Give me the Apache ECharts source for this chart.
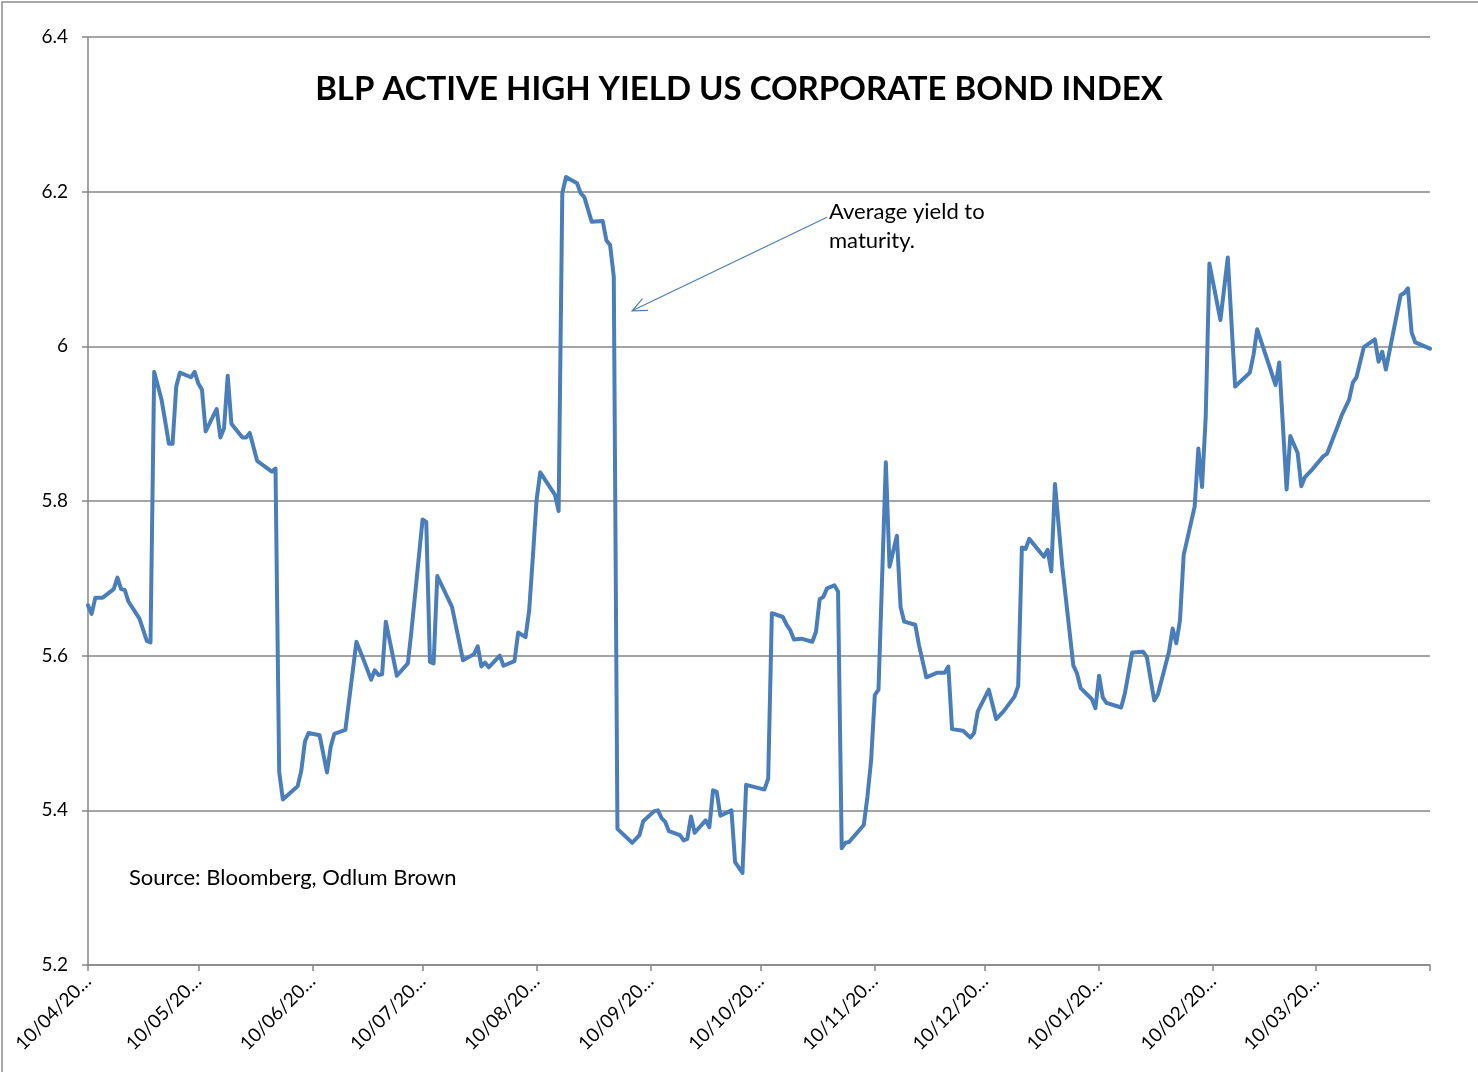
<!DOCTYPE html>
<html><head><meta charset="utf-8">
<script src="https://cdn.jsdelivr.net/npm/echarts@6/dist/echarts.min.js"></script>
<style>html,body{margin:0;padding:0;background:#fff}#c{width:1478px;height:1072px}</style>
</head><body><div id="c"></div>
<script>
const dates = [
'2010-04-10','2010-04-11','2010-04-12','2010-04-14','2010-04-17','2010-04-18','2010-04-19','2010-04-20','2010-04-21','2010-04-24',
'2010-04-26','2010-04-27','2010-04-28','2010-04-30','2010-05-01','2010-05-02','2010-05-03','2010-05-04','2010-05-05','2010-05-08',
'2010-05-09','2010-05-10','2010-05-11','2010-05-12','2010-05-15','2010-05-16','2010-05-17','2010-05-18','2010-05-19','2010-05-22',
'2010-05-23','2010-05-24','2010-05-26','2010-05-30','2010-05-31','2010-06-01','2010-06-02','2010-06-06','2010-06-07','2010-06-08',
'2010-06-09','2010-06-12','2010-06-14','2010-06-15','2010-06-16','2010-06-19','2010-06-22','2010-06-24','2010-06-26','2010-06-27',
'2010-06-28','2010-06-29','2010-06-30','2010-07-03','2010-07-06','2010-07-07','2010-07-10','2010-07-11','2010-07-12','2010-07-13',
'2010-07-14','2010-07-18','2010-07-21','2010-07-24','2010-07-25','2010-07-26','2010-07-27','2010-07-28','2010-07-31','2010-08-01',
'2010-08-04','2010-08-05','2010-08-07','2010-08-08','2010-08-09','2010-08-10','2010-08-11','2010-08-15','2010-08-16','2010-08-17',
'2010-08-18','2010-08-21','2010-08-22','2010-08-23','2010-08-25','2010-08-28','2010-08-29','2010-08-30','2010-08-31','2010-09-01',
'2010-09-05','2010-09-07','2010-09-08','2010-09-11','2010-09-12','2010-09-13','2010-09-14','2010-09-15','2010-09-18','2010-09-19',
'2010-09-20','2010-09-21','2010-09-22','2010-09-25','2010-09-26','2010-09-27','2010-09-28','2010-09-29','2010-10-02','2010-10-03',
'2010-10-05','2010-10-06','2010-10-10','2010-10-11','2010-10-12','2010-10-13','2010-10-16','2010-10-17','2010-10-18','2010-10-19',
'2010-10-21','2010-10-24','2010-10-25','2010-10-26','2010-10-27','2010-10-28','2010-10-30','2010-10-31','2010-11-01','2010-11-02',
'2010-11-03','2010-11-07','2010-11-08','2010-11-09','2010-11-10','2010-11-11','2010-11-13','2010-11-14','2010-11-16','2010-11-17',
'2010-11-18','2010-11-21','2010-11-22','2010-11-24','2010-11-27','2010-11-29','2010-11-30','2010-12-01','2010-12-04','2010-12-06',
'2010-12-07','2010-12-08','2010-12-11','2010-12-13','2010-12-15','2010-12-18','2010-12-19','2010-12-20','2010-12-21','2010-12-22',
'2010-12-26','2010-12-27','2010-12-28','2010-12-29','2010-12-31','2011-01-03','2011-01-04','2011-01-05','2011-01-08','2011-01-09',
'2011-01-10','2011-01-11','2011-01-12','2011-01-16','2011-01-17','2011-01-19','2011-01-22','2011-01-23','2011-01-25','2011-01-26',
'2011-01-29','2011-01-30','2011-01-31','2011-02-01','2011-02-02','2011-02-05','2011-02-06','2011-02-07','2011-02-08','2011-02-09',
'2011-02-12','2011-02-14','2011-02-16','2011-02-20','2011-02-21','2011-02-22','2011-02-27','2011-02-28','2011-03-02','2011-03-03',
'2011-03-05','2011-03-06','2011-03-07','2011-03-09','2011-03-12','2011-03-13','2011-03-16','2011-03-17','2011-03-19','2011-03-20',
'2011-03-21','2011-03-23','2011-03-26','2011-03-27','2011-03-28','2011-03-29','2011-04-02','2011-04-03','2011-04-04','2011-04-05',
'2011-04-06','2011-04-10'
];
const yields = [
5.665,5.654,5.675,5.675,5.686,5.701,5.686,5.685,5.670,5.648,
5.619,5.617,5.967,5.931,5.903,5.874,5.874,5.948,5.966,5.960,
5.967,5.952,5.944,5.890,5.919,5.882,5.894,5.962,5.900,5.882,
5.882,5.888,5.852,5.838,5.842,5.450,5.414,5.431,5.451,5.489,
5.500,5.497,5.449,5.482,5.499,5.504,5.618,5.594,5.569,5.581,
5.575,5.576,5.644,5.574,5.590,5.633,5.776,5.773,5.592,5.590,
5.703,5.663,5.594,5.602,5.612,5.586,5.591,5.585,5.600,5.587,
5.593,5.630,5.624,5.659,5.728,5.801,5.837,5.808,5.787,6.198,
6.219,6.211,6.198,6.193,6.161,6.162,6.137,6.131,6.090,5.376,
5.358,5.368,5.386,5.399,5.400,5.390,5.385,5.373,5.368,5.361,
5.363,5.392,5.371,5.387,5.378,5.426,5.424,5.393,5.400,5.333,
5.319,5.433,5.428,5.427,5.441,5.655,5.650,5.640,5.633,5.621,
5.622,5.618,5.631,5.673,5.676,5.687,5.691,5.683,5.351,5.358,
5.359,5.381,5.418,5.465,5.549,5.556,5.850,5.715,5.755,5.663,
5.644,5.640,5.614,5.572,5.578,5.578,5.586,5.505,5.503,5.494,
5.500,5.528,5.556,5.518,5.528,5.547,5.561,5.740,5.738,5.751,
5.728,5.737,5.709,5.822,5.715,5.587,5.577,5.558,5.544,5.532,
5.574,5.546,5.539,5.533,5.551,5.604,5.605,5.598,5.542,5.550,
5.605,5.635,5.616,5.646,5.730,5.793,5.868,5.818,5.909,6.107,
6.034,6.115,5.948,5.966,5.989,6.022,5.950,5.979,5.815,5.884,
5.862,5.819,5.831,5.841,5.858,5.861,5.898,5.911,5.931,5.953,
5.960,5.999,6.009,5.980,5.993,5.970,6.066,6.069,6.075,6.018,
6.005,5.997
];
const tickDates = ['2010-04-10','2010-05-10','2010-06-10','2010-07-10','2010-08-10','2010-09-10','2010-10-10','2010-11-10','2010-12-10','2011-01-10','2011-02-10','2011-03-10','2011-04-10'];
const tickLabels = ['10/04/20…','10/05/20…','10/06/20…','10/07/20…','10/08/20…','10/09/20…','10/10/20…','10/11/20…','10/12/20…','10/01/20…','10/02/20…','10/03/20…'];
const yMin = 5.2, yMax = 6.4, yStep = 0.2;
const titleText = 'BLP ACTIVE HIGH YIELD US CORPORATE BOND INDEX';
const noteText = 'Average yield to\nmaturity.';
const sourceText = 'Source: Bloomberg, Odlum Brown';
const arrowFrom = ['2010-10-28', 6.167];
const arrowTo = ['2010-09-05', 6.046];

function ts(s){ const p = s.split('-').map(Number); return Date.UTC(p[0], p[1]-1, p[2]); }
const labelMap = {};
tickLabels.forEach((l,i) => { labelMap[ts(tickDates[i])] = l; });

const FONT = 'Lato';
const AX = '#868686';
const BLUE = '#4A7EBB';

const chart = echarts.init(document.getElementById('c'), null, {renderer:'canvas'});
const option = {
  animation: false,
  backgroundColor: '#fff',
  title: {
    text: titleText, left: 'center', top: 68,
    textStyle: {fontFamily: FONT, fontWeight: 'bold', fontSize: 33, color: '#000'}
  },
  grid: {left: 88, right: 48, top: 37, bottom: 107, containLabel: false},
  xAxis: {
    type: 'value',
    min: ts(tickDates[0]), max: ts(tickDates[tickDates.length-1]),
    axisLine: {show: true, lineStyle: {color: AX, width: 1.5}},
    axisTick: {show: true, length: 6, lineStyle: {color: AX, width: 1.5}, customValues: tickDates.map(ts)},
    axisLabel: {
      customValues: tickDates.slice(0, tickLabels.length).map(ts),
      formatter: v => labelMap[v] || '',
      rotate: 45, margin: 13, fontFamily: FONT, fontSize: 19, color: '#000', hideOverlap: false
    },
    splitLine: {show: false}
  },
  yAxis: {
    type: 'value', min: yMin, max: yMax, interval: yStep,
    axisLine: {show: true, lineStyle: {color: AX, width: 1.5}},
    axisTick: {show: true, length: 6, lineStyle: {color: AX, width: 1.5}},
    axisLabel: {margin: 20, fontFamily: FONT, fontSize: 19, color: '#000'},
    splitLine: {show: true, lineStyle: {color: AX, width: 1.5}}
  },
  series: [{
    type: 'line',
    data: dates.map((d, i) => [ts(d), yields[i]]),
    showSymbol: false,
    lineStyle: {color: BLUE, width: 4, cap: 'round', join: 'round'},
    itemStyle: {color: BLUE}
  }]
};
chart.setOption(option);

const p1 = chart.convertToPixel({xAxisIndex: 0, yAxisIndex: 0}, [ts(arrowFrom[0]), arrowFrom[1]]);
const p2 = chart.convertToPixel({xAxisIndex: 0, yAxisIndex: 0}, [ts(arrowTo[0]), arrowTo[1]]);
const ang = Math.atan2(p2[1] - p1[1], p2[0] - p1[0]);
const hl = 16, spread = 0.42;
const armA = [p2[0] - hl * Math.cos(ang - spread), p2[1] - hl * Math.sin(ang - spread)];
const armB = [p2[0] - hl * Math.cos(ang + spread), p2[1] - hl * Math.sin(ang + spread)];

chart.setOption({
  graphic: [
    {type: 'rect', silent: true, shape: {x: 2, y: 2, width: 1500, height: 1100},
     style: {fill: 'none', stroke: '#8c8c8c', lineWidth: 1.5}},
    {type: 'line', silent: true, shape: {x1: p1[0], y1: p1[1], x2: p2[0], y2: p2[1]},
     style: {stroke: BLUE, lineWidth: 1.2}},
    {type: 'polyline', silent: true, shape: {points: [armA, p2, armB]},
     style: {stroke: BLUE, lineWidth: 1.2, fill: 'none'}},
    {type: 'text', silent: true, x: p1[0] + 2, y: p1[1] - 20,
     style: {text: noteText, font: '22px ' + FONT, fill: '#000', lineHeight: 29, verticalAlign: 'top'}},
    {type: 'text', silent: true, x: 129, y: 867,
     style: {text: sourceText, font: '22px ' + FONT, fill: '#000', verticalAlign: 'top'}}
  ]
});
</script>
</body></html>
